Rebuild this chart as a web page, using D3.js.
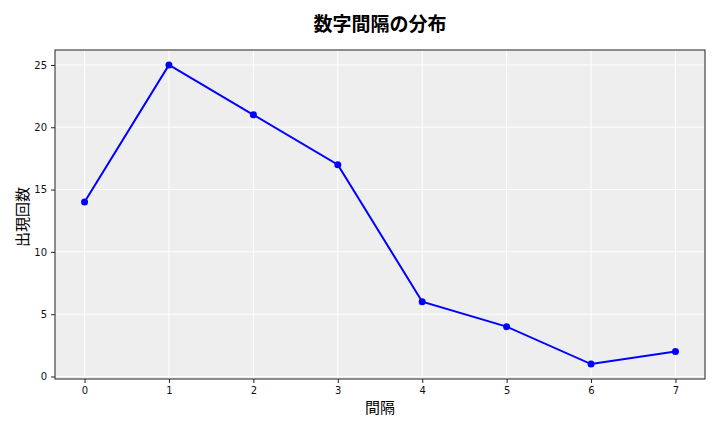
<!DOCTYPE html>
<html>
<head>
<meta charset="utf-8">
<script src="https://cdn.jsdelivr.net/npm/d3@7"></script>
<style>
  body { margin: 0; background: #fff; }
  text { font-family: "DejaVu Sans", sans-serif; }
  .cjk { font-family: "Noto Sans CJK JP", sans-serif; }
</style>
</head>
<body>
<svg id="chart" width="720" height="432"></svg>
<script>
// data
var intervals = [0, 1, 2, 3, 4, 5, 6, 7];
var counts = [14, 25, 21, 17, 6, 4, 1, 2];
var yTicks = [0, 5, 10, 15, 20, 25];
var title = '数字間隔の分布';
var xTitle = '間隔';
var yTitle = '出現回数';

var svg = d3.select('#chart');
var plot = {left: 55, right: 705, top: 50, bottom: 379};

var x = d3.scaleLinear().domain([-0.35, 7.35]).range([plot.left, plot.right]);
var y = d3.scaleLinear().domain([-0.2, 26.2]).range([plot.bottom, plot.top]);

svg.append('rect')
	.attr('x', plot.left).attr('y', plot.top)
	.attr('width', plot.right - plot.left).attr('height', plot.bottom - plot.top)
	.style('fill', '#eeeeee');

// grid
svg.append('g').selectAll('line').data(intervals).enter().append('line')
	.attr('x1', function(d) {return x(d)}).attr('x2', function(d) {return x(d)})
	.attr('y1', plot.top).attr('y2', plot.bottom)
	.style('stroke', '#fff').style('stroke-width', 1);
svg.append('g').selectAll('line').data(yTicks).enter().append('line')
	.attr('y1', function(d) {return y(d)}).attr('y2', function(d) {return y(d)})
	.attr('x1', plot.left).attr('x2', plot.right)
	.style('stroke', '#fff').style('stroke-width', 1);

// axes
var xAxis = svg.append('g')
	.attr('transform', 'translate(0,' + plot.bottom + ')')
	.call(d3.axisBottom(x).tickValues(intervals).tickFormat(d3.format('d')).tickSize(4).tickPadding(4));
var yAxis = svg.append('g')
	.attr('transform', 'translate(' + plot.left + ',0)')
	.call(d3.axisLeft(y).tickValues(yTicks).tickFormat(d3.format('d')).tickSize(4).tickPadding(4));
[xAxis, yAxis].forEach(function(a) {
	a.select('.domain').remove();
	a.selectAll('text').style('font-size', '10px').style('font-family', '"DejaVu Sans", sans-serif').style('fill', '#111');
	a.selectAll('line').style('stroke', '#222');
});

// frame
svg.append('rect')
	.attr('x', plot.left).attr('y', plot.top)
	.attr('width', plot.right - plot.left).attr('height', plot.bottom - plot.top)
	.style('fill', 'none').style('stroke', '#222').style('stroke-width', 1);

// line + markers
var line = d3.line()
	.x(function(d, i) {return x(intervals[i])})
	.y(function(d) {return y(d)});
svg.append('path')
	.datum(counts)
	.attr('d', line)
	.style('fill', 'none').style('stroke', '#0000ff').style('stroke-width', 2);
svg.append('g').selectAll('circle').data(counts).enter().append('circle')
	.attr('cx', function(d, i) {return x(intervals[i])})
	.attr('cy', function(d) {return y(d)})
	.attr('r', 3.5)
	.style('fill', '#0000ff');

// titles
svg.append('text').attr('class', 'cjk')
	.attr('x', (plot.left + plot.right) / 2).attr('y', 31)
	.attr('text-anchor', 'middle')
	.style('font-size', '19px').style('font-weight', 'bold')
	.text(title);
svg.append('text').attr('class', 'cjk')
	.attr('x', (plot.left + plot.right) / 2).attr('y', 413)
	.attr('text-anchor', 'middle')
	.style('font-size', '15px')
	.text(xTitle);
svg.append('text').attr('class', 'cjk')
	.attr('transform', 'translate(28,217) rotate(-90)')
	.attr('text-anchor', 'middle')
	.style('font-size', '15px')
	.text(yTitle);
</script>
</body>
</html>
